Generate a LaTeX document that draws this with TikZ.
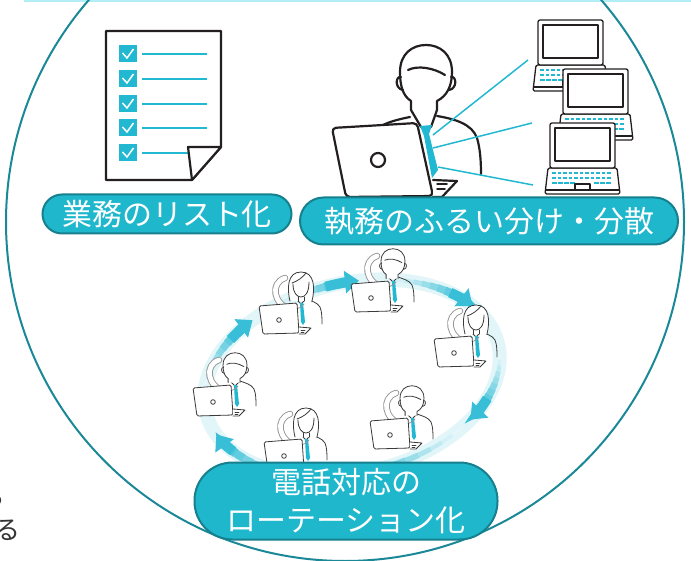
\documentclass[tikz,border=0pt]{standalone}
\usepackage{fontspec}
\setmainfont{Noto Sans CJK JP}
\usetikzlibrary{arrows.meta}

\definecolor{ringteal}{HTML}{1B8898}
\definecolor{labelfill}{HTML}{1FB7CC}
\definecolor{labeledge}{HTML}{16808F}
\definecolor{accent}{HTML}{22B8D2}
\definecolor{inkline}{HTML}{231F20}
\definecolor{thinink}{HTML}{3A3A3A}
\definecolor{phonegray}{HTML}{959595}
\definecolor{swoosh}{HTML}{2DBBD4}
\definecolor{topline}{HTML}{B2EEF6}
\definecolor{sidetext}{HTML}{333333}

\tikzset{
  heavy ink/.style={color=inkline, line width=2.2pt, line join=round, line cap=round},
  laptop ink/.style={color=inkline, line width=1.3pt, line join=round},
  fine ink/.style={color=thinink, line width=0.8pt, line join=round, line cap=round},
  task label/.style={draw=labeledge, line width=2pt, fill=labelfill, text=white,
    inner sep=0pt, align=center, font=\fontsize{30}{38}\selectfont},
  fan line/.style={draw=accent, line width=1.5pt},
  side text/.style={text=sidetext, inner sep=0pt, font=\fontsize{26}{30}\selectfont},
  % head of a man, drawn at full size around (0,0)
  pics/man head/.style={code={
    \draw[fill=white] (-15,34) -- (-15,25) .. controls (-23,20) and (-26,10) .. (-26,-4)
      .. controls (-26,-22) and (-14,-31) .. (0,-31)
      .. controls (14,-31) and (26,-22) .. (26,-4)
      .. controls (26,10) and (21,20) .. (11,25) -- (11,34);
    \draw (-25,1) .. controls (-31,0) and (-31,13) .. (-23,14);
    \draw (25,1) .. controls (31,0) and (31,13) .. (23,14);
    \draw (-18,-6) .. controls (-8,-11) and (8,-8) .. (19,-1);
  }},
  pics/woman head/.style={code={
    \draw[fill=white] (-11,16) .. controls (-14,4) and (-14,-13) .. (0,-13)
      .. controls (14,-13) and (14,4) .. (11,16);
    \draw (-8,-1) .. controls (-8,8) and (-4,12) .. (0,12) .. controls (4,12) and (8,8) .. (8,-3);
    \draw (-9,-2) .. controls (-3,-4) and (2,-8) .. (5,-12);
    \draw (-3,12) -- (-3,16);
    \draw (3,12) -- (3,16);
  }},
  pics/caller body/.style={code={
    \draw (5,14) .. controls (10,16) and (16,17) .. (19,22) .. controls (21,27) and (21,33) .. (21,39);
    \draw (-5,14) -- (0,19) -- (5,14);
    \fill[accent] (-1,18) -- (2,18) -- (4,37) -- (2,40) -- (0,37) -- cycle;
  }},
  pics/caller phone/.style={code={
    \draw[phonegray, line width=6.5pt, line cap=round] (-16,-7) .. controls (-31,-2) and (-28,19) .. (-10,25);
    \draw[white, line width=4.7pt, line cap=round] (-16,-7) .. controls (-31,-2) and (-28,19) .. (-10,25);
    \draw[phonegray, line width=0.8pt] (-14,19) .. controls (-8,26) and (-2,25) .. (3,19);
  }},
  pics/caller desk/.style={code={
    \draw[fill=white, rounded corners=1.5pt] (-42,21) -- (-4,18) -- (-2,48) -- (-38,49) -- cycle;
    \draw (-22,35) circle (2.3);
    \draw[fill=white] (-2,42) -- (10,43) -- (4,49) -- (-2,49);
    \draw (0,45) -- (4,45) (0,47) -- (3,47);
  }},
  pics/caller man/.style={code={
    \pic {caller body};
    \pic[scale=.46] {man head};
    \pic {caller phone};
    \pic {caller desk};
  }},
  pics/caller woman/.style={code={
    \pic {caller body};
    \pic {woman head};
    \pic {caller phone};
    \pic {caller desk};
  }},
  % notebook seen from the front, origin at top left of the screen
  pics/notebook/.style={code={
    \draw[fill=white, rounded corners=1.5pt] (-2,45) -- (67,45) -- (70,71) -- (-5,71) -- cycle;
    \draw (-5,67) -- (70,67);
    \draw[fill=white, rounded corners=2pt] (0,0) rectangle (65,45);
    \draw (5,5) rectangle (60,38);
    \foreach \row in {49,54}
      \foreach \col in {2,7.5,...,61}
        \fill[accent] (\col,\row) rectangle ++(3.5,2.5);
    \foreach \col in {2,8,14,20,44,50,56}
      \fill[accent] (\col,59) rectangle ++(4.5,2.5);
    \draw (25,67) -- (25,61) -- (40,61) -- (40,67);
  }},
}

\begin{document}
\begin{tikzpicture}[x=1pt, y=-1pt]
\useasboundingbox (0,0) rectangle (691,561);
\clip (0,0) rectangle (691,561);

% frame
\draw[topline, line width=2pt] (24,1) -- (691,1);
\draw[ringteal, line width=2pt] (345,222) circle (339);

% text running in from the left
\node[side text, anchor=east] (cutA) at (6,497) {ら};
\node[side text, anchor=east] (cutB) at (21,530) {る};

% checklist sheet
\draw[heavy ink, fill=white] (106,31) -- (221,31) -- (221,147) -- (192,180) -- (106,180) -- cycle;
\foreach \y in {54,79,104,128}
  \draw[accent, line width=1.5pt] (142,\y) -- (207,\y);
\draw[accent, line width=1.5pt] (142,153) -- (188,153);
\foreach \y in {54,79,104,128,153} {
  \fill[accent] (119,\y-8.5) rectangle (137,\y+8.5);
  \draw[white, line width=1.5pt] (122.5,\y-1) -- (127,\y+4) -- (133.5,\y-5);
}
\draw[heavy ink, fill=white] (188,147) -- (221,147) -- (192,180) -- cycle;

% manager at his laptop
\begin{scope}[heavy ink]
  \draw (410,117) .. controls (400,119) and (386,122) .. (376,129);
  \draw (437,116) .. controls (455,119) and (472,124) .. (477,138)
    .. controls (480,148) and (481,160) .. (481,174);
  \pic (boss) at (426,76) {man head};
  \draw (411,110) -- (421,127);
  \draw (437,110) -- (431,127);
  \fill[accent] (420,126) -- (432,125) -- (429,134) -- (438,170) -- (432,178) -- (424,136) -- cycle;
  \draw[fill=white, rounded corners=4pt] (332,128) -- (417,123) -- (433,196) -- (346,197) -- cycle;
  \draw (378,160) circle (7);
  \draw[fill=white] (433,180) -- (457,181) -- (442,197) -- (433,197);
  \draw[line width=1.5pt] (437,184) -- (447,184) (437,189) -- (445,189);
\end{scope}

% notebooks handed the work
\pic[laptop ink] (pcA) at (538,20) {notebook};
\pic[laptop ink] (pcB) at (563,69) {notebook};
\pic[laptop ink] (pcC) at (550,123) {notebook};

\coordinate (tieA) at (433,135);
\coordinate (tieB) at (433,148);
\coordinate (tieC) at (438,167);
\coordinate (fanA) at (528,60);
\coordinate (fanB) at (532,123);
\coordinate (fanC) at (533,185);
\draw[fan line] (tieA) -- (fanA);
\draw[fan line] (tieB) -- (fanB);
\draw[fan line] (tieC) -- (fanC);

% rotation loop
\begin{scope}[shift={(352,378)}, rotate=13]
  \draw[swoosh!14, line width=14pt] (0,0) ellipse (150 and 95);
  \foreach \from/\to in {112/160, 196/231, 247/276, 292/328, 366/400, 50/104} {
    \foreach \k in {0,...,9} {
      \pgfmathsetmacro\a{\from+(\to-\from)*\k/10}
      \pgfmathsetmacro\b{\from+(\to-\from)*(\k+1)/10}
      \pgfmathsetmacro\w{2.5+0.8*\k}
      \pgfmathtruncatemacro\c{12+9*\k}
      \draw[swoosh!\c, line width=\w pt] (\a:150 and 95)
        arc[start angle=\a, end angle=\b, x radius=150, y radius=95];
    }
    \pgfmathsetmacro\s{\to-8}
    \pgfmathsetmacro\e{\to+5}
    \draw[swoosh!95, line width=10pt, -{Triangle[width=22pt,length=14pt]}] (\s:150 and 95)
      arc[start angle=\s, end angle=\e, x radius=150, y radius=95];
  }
\end{scope}

% operators taking calls in turn
\begin{scope}[fine ink]
  \pic (opA) at (235,367) {caller man};
  \pic (opB) at (301,285) {caller woman};
  \pic (opC) at (393,263) {caller man};
  \pic (opD) at (476,318) {caller woman};
  \pic (opE) at (412,400) {caller man};
  \pic (opF) at (306,421) {caller woman};
\end{scope}

% captions
\node[task label, minimum width=249pt, minimum height=39pt, rounded corners=19.5pt]
  (listing) at (167,214) {業務のリスト化};
\node[task label, minimum width=378pt, minimum height=47pt, rounded corners=23.5pt]
  (sharing) at (489,221) {執務のふるい分け・分散};
\node[task label, minimum width=303pt, minimum height=77pt, rounded corners=38pt]
  (rotation) at (346,501) {電話対応の\\ローテーション化};
\end{tikzpicture}
\end{document}
